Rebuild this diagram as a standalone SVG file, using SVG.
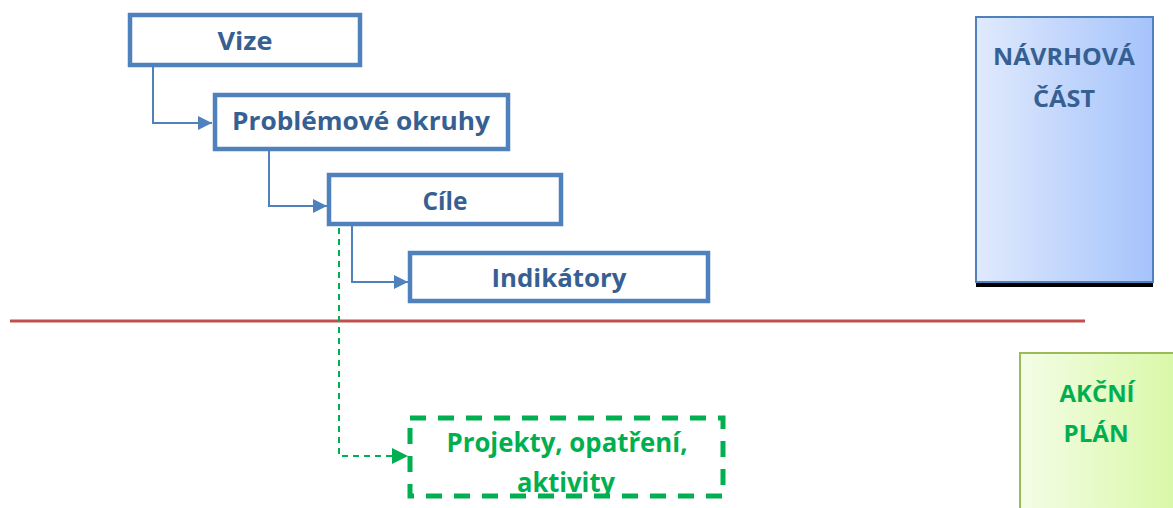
<svg xmlns="http://www.w3.org/2000/svg" width="1173" height="508" viewBox="0 0 1173 508">
<style>
.box{fill:#fff;stroke:#4f81bd;stroke-width:4.5}
.lbl{font-family:"Open Sans",Lato,"Liberation Sans",sans-serif;font-weight:bold;font-size:25px;fill:#376092;text-anchor:middle}
.glbl{font-family:"Open Sans",Lato,"Liberation Sans",sans-serif;font-weight:bold;font-size:26px;fill:#00b050;text-anchor:middle}
.side{font-family:"Open Sans",Lato,"Liberation Sans",sans-serif;font-weight:bold;font-size:24px;text-anchor:middle}
.conn{fill:none;stroke:#4f81bd;stroke-width:2}
.gconn{fill:none;stroke:#00b050;stroke-width:2;stroke-dasharray:6 5}
</style>
<defs>
<marker id="ab" viewBox="0 0 10 10" refX="10" refY="5" markerWidth="7" markerHeight="7" orient="auto" markerUnits="strokeWidth"><path d="M0,0L10,5L0,10z" fill="#4f81bd"/></marker>
<marker id="ag" viewBox="0 0 10 10" refX="10" refY="5" markerWidth="8" markerHeight="8" orient="auto" markerUnits="strokeWidth"><path d="M0,0L10,5L0,10z" fill="#00b050"/></marker>
<linearGradient id="gb" x1="0" x2="1" y1="0" y2="0"><stop offset="0" stop-color="#e0eafd"/><stop offset="1" stop-color="#a5c3fb"/></linearGradient>
<linearGradient id="gg" x1="0" x2="1" y1="0" y2="0"><stop offset="0" stop-color="#f3fde6"/><stop offset="1" stop-color="#d9f8a6"/></linearGradient>
</defs>
<line x1="10" y1="321" x2="1085" y2="321" stroke="#c0504d" stroke-width="3"/>
<g id="connectors">
<path class="conn" d="M153,67V123H212" marker-end="url(#ab)"/>
<path class="conn" d="M269,151V206H327" marker-end="url(#ab)"/>
<path class="conn" d="M352,226V282H408" marker-end="url(#ab)"/>
<path class="gconn" d="M339,228V456H408" marker-end="url(#ag)"/>
</g>
<g id="vize"><rect class="box" x="130" y="15" width="230" height="50"/><text class="lbl" x="245" y="50" textLength="55" lengthAdjust="spacingAndGlyphs">Vize</text></g>
<g id="problemove"><rect class="box" x="215" y="95" width="293" height="54"/><text class="lbl" x="361" y="130" textLength="258" lengthAdjust="spacingAndGlyphs">Problémové okruhy</text></g>
<g id="cile"><rect class="box" x="329" y="175" width="232" height="49"/><text class="lbl" x="445" y="210" textLength="45" lengthAdjust="spacingAndGlyphs">Cíle</text></g>
<g id="indikatory"><rect class="box" x="410" y="253" width="298" height="48"/><text class="lbl" x="559" y="287" textLength="135" lengthAdjust="spacingAndGlyphs">Indikátory</text></g>
<g id="projekty"><rect x="410" y="418" width="313" height="78" fill="#fff"/><text class="glbl" x="567" y="452" textLength="241" lengthAdjust="spacingAndGlyphs">Projekty, opatření,</text><text class="glbl" x="566" y="492" textLength="98" lengthAdjust="spacingAndGlyphs">aktivity</text><rect x="410" y="418" width="313" height="78" fill="none" stroke="#00b050" stroke-width="5" stroke-dasharray="16 12"/></g>
<g id="navrhova"><rect x="976" y="282" width="177" height="5" fill="#000"/><rect x="976" y="17" width="177" height="265" fill="url(#gb)" stroke="#4f81bd" stroke-width="2"/><text class="side" x="1064" y="65" fill="#376092" textLength="142" lengthAdjust="spacingAndGlyphs">NÁVRHOVÁ</text><text class="side" x="1064" y="107" fill="#376092" textLength="62" lengthAdjust="spacingAndGlyphs">ČÁST</text></g>
<g id="akcni"><rect x="1020" y="353" width="160" height="170" fill="url(#gg)" stroke="#9bbb59" stroke-width="2"/><text class="side" x="1097" y="402" fill="#00b050" textLength="75" lengthAdjust="spacingAndGlyphs">AKČNÍ</text><text class="side" x="1096" y="442" fill="#00b050" textLength="65" lengthAdjust="spacingAndGlyphs">PLÁN</text></g>
</svg>
